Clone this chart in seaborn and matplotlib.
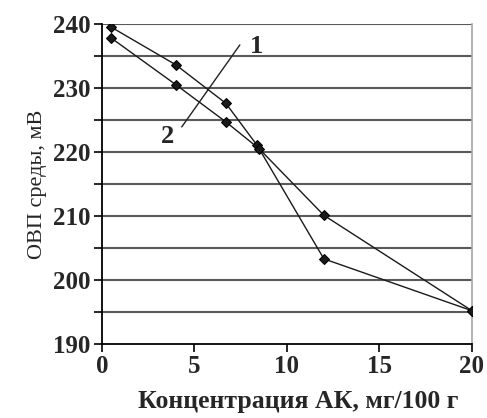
import matplotlib
matplotlib.use("Agg")
import matplotlib.pyplot as plt
import seaborn as sns
import pandas as pd
from matplotlib.ticker import MultipleLocator

sns.set_theme(style="white")
plt.rcParams['font.family'] = ['Liberation Serif', 'DejaVu Serif']

conc1 = [0.5, 4.0, 6.7, 8.4, 12.0, 20.0]
orp1 = [239.5, 233.6, 227.6, 221.0, 203.3, 195.2]
conc2 = [0.5, 4.0, 6.7, 8.5, 12.0, 20.0]
orp2 = [237.8, 230.5, 224.7, 220.5, 210.1, 195.2]
series_labels = ["1", "2"]

df = pd.concat([
    pd.DataFrame({"x": conc1, "y": orp1, "s": series_labels[0]}),
    pd.DataFrame({"x": conc2, "y": orp2, "s": series_labels[1]}),
])

fig = plt.figure(figsize=(4.87, 4.18), dpi=100)
ax = fig.add_axes([0.209, 0.177, 0.760, 0.766])

for yv in range(195, 241, 5):
    ax.axhline(yv, color="#5a5a5a", lw=1.5, zorder=1)

sns.lineplot(data=df, x="x", y="y", hue="s", palette=["#1a1a1a", "#1a1a1a"],
             marker="D", markersize=5.5, markeredgecolor="black", lw=1.0,
             legend=False, sort=False, estimator=None, ax=ax, zorder=3)

ax.set_xlim(0, 20)
ax.set_ylim(190, 240)
ax.xaxis.set_major_locator(MultipleLocator(5))
ax.yaxis.set_major_locator(MultipleLocator(10))
ax.yaxis.set_minor_locator(MultipleLocator(5))
ax.tick_params(axis="both", which="both", direction="out", color="black",
               left=True, bottom=True, width=1.2)
ax.tick_params(axis="both", which="major", length=6, labelsize=18, pad=2)
ax.tick_params(axis="y", which="minor", length=6)
for lbl in ax.get_xticklabels() + ax.get_yticklabels():
    lbl.set_fontweight("bold")

ax.spines["top"].set_visible(False)
ax.spines["right"].set_color("#aaaaaa")
ax.spines["left"].set_color("black")
ax.spines["bottom"].set_color("black")
ax.spines["left"].set_linewidth(1.3)
ax.spines["bottom"].set_linewidth(1.3)

ax.set_xlabel("Концентрация АК, мг/100 г", fontsize=18.5, fontweight="bold", labelpad=1)
ax.xaxis.set_label_coords(0.53, -0.145)
ax.set_ylabel("ОВП среды, мВ", fontsize=16, labelpad=4)

ax.plot([7.46, 4.32], [236.7, 223.9], color="#222222", lw=1.0, zorder=4)
ax.text(8.0, 236.5, series_labels[0], fontsize=19, fontweight="bold",
        ha="left", va="center", zorder=5)
ax.text(3.9, 222.4, series_labels[1], fontsize=19, fontweight="bold",
        ha="right", va="center", zorder=5)

fig.savefig("out.png", dpi=100)
